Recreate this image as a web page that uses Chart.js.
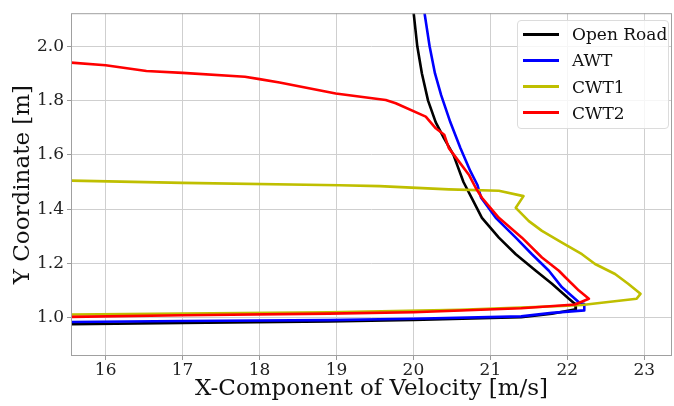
<!DOCTYPE html>
<html>
<head>
<meta charset="utf-8">
<script src="https://cdn.jsdelivr.net/npm/chart.js@4.4.0/dist/chart.umd.min.js"></script>
<style>
    body { margin: 0; background: #fff; }
    #wrap { position: relative; width: 674px; height: 406px; }
    #legend {
        position: absolute; left: 517px; top: 20px; width: 150px; height: 107px;
        border: 1px solid #dcdcdc; border-radius: 4px; background: rgba(255,255,255,0.8);
        font-family: 'DejaVu Serif', serif; font-size: 17px; color: #111;
    }
    .row { position: absolute; left: 0; height: 26px; display: flex; align-items: center; }
    .swatch { width: 36px; height: 3px; margin-left: 5px; margin-right: 13px; }
</style>
</head>
<body>
<div id="wrap">
    <canvas id="chart" width="674" height="406"></canvas>
    <div id="legend"></div>
</div>
<script>
// series names and colours
const seriesNames = ['Open Road', 'AWT', 'CWT1', 'CWT2'];
const seriesColors = ['#000000', '#0000ff', '#bfbf00', '#ff0000'];

// velocity (x) and height (y), in drawing order
const openRoadX = [20.00, 20.05, 20.11, 20.19, 20.29, 20.40, 20.52, 20.65, 20.76, 20.89, 21.11, 21.33, 21.59, 21.80, 22.02, 22.10, 22.11, 21.80, 21.40, 20.00, 18.90, 17.00, 15.50, 15.00];
const openRoadY = [2.130, 2.000, 1.900, 1.800, 1.720, 1.660, 1.600, 1.500, 1.440, 1.368, 1.295, 1.234, 1.173, 1.125, 1.070, 1.051, 1.031, 1.015, 1.002, 0.992, 0.986, 0.981, 0.976, 0.974];

const awtX = [20.14, 20.21, 20.28, 20.36, 20.48, 20.61, 20.74, 20.83, 20.88, 21.07, 21.33, 21.54, 21.76, 21.93, 22.15, 22.22, 22.22, 21.80, 21.40, 20.00, 18.90, 17.00, 15.50, 15.00];
const awtY = [2.130, 2.000, 1.900, 1.820, 1.720, 1.625, 1.540, 1.490, 1.442, 1.368, 1.295, 1.234, 1.173, 1.112, 1.057, 1.050, 1.027, 1.018, 1.005, 0.996, 0.991, 0.988, 0.984, 0.983];

const cwt1X = [15.00, 15.55, 17.00, 19.04, 19.56, 20.46, 21.11, 21.43, 21.33, 21.50, 21.67, 21.93, 22.19, 22.36, 22.62, 22.79, 22.95, 22.90, 22.19, 21.93, 20.60, 18.90, 17.00, 15.50, 15.00];
const cwt1Y = [1.507, 1.505, 1.497, 1.488, 1.485, 1.473, 1.468, 1.448, 1.405, 1.356, 1.320, 1.277, 1.234, 1.198, 1.161, 1.125, 1.088, 1.070, 1.047, 1.043, 1.029, 1.020, 1.015, 1.012, 1.011];

const cwt2X = [15.00, 15.55, 16.00, 16.53, 17.00, 17.81, 18.00, 18.26, 18.99, 19.64, 19.77, 20.16, 20.29, 20.40, 20.46, 20.59, 20.72, 20.81, 20.89, 21.11, 21.41, 21.67, 21.89, 21.97, 22.15, 22.28, 22.10, 21.40, 20.00, 18.90, 17.00, 15.50, 15.00];
const cwt2Y = [1.950, 1.940, 1.930, 1.909, 1.902, 1.888, 1.879, 1.867, 1.826, 1.802, 1.790, 1.741, 1.698, 1.674, 1.625, 1.576, 1.527, 1.478, 1.442, 1.368, 1.295, 1.222, 1.173, 1.150, 1.100, 1.070, 1.049, 1.035, 1.020, 1.015, 1.009, 1.003, 1.002];

// axis ticks
const xTicks = [16, 17, 18, 19, 20, 21, 22, 23];
const yTicks = [1.0, 1.2, 1.4, 1.6, 1.8, 2.0];

const seriesX = [openRoadX, awtX, cwt1X, cwt2X];
const seriesY = [openRoadY, awtY, cwt1Y, cwt2Y];

const serif = 'DejaVu Serif';
Chart.defaults.font.family = serif;

const frame = {
    id: 'frame',
    afterDraw(chart) {
        const a = chart.chartArea, ctx = chart.ctx;
        ctx.save();
        ctx.strokeStyle = '#a0a0a0';
        ctx.lineWidth = 1;
        ctx.strokeRect(a.left + 0.5, a.top + 0.5, a.right - a.left - 1, a.bottom - a.top - 1);
        ctx.restore();
    }
};

new Chart(document.getElementById('chart'), {
    type: 'scatter',
    data: {
        datasets: seriesNames.map((name, i) => ({
            label: name,
            data: seriesX[i].map((x, j) => ({ x: x, y: seriesY[i][j] })),
            showLine: true,
            borderColor: seriesColors[i],
            backgroundColor: seriesColors[i],
            borderWidth: 2.6,
            pointRadius: 0,
            tension: 0,
            borderJoinStyle: 'round',
            order: seriesNames.length - 1 - i
        }))
    },
    options: {
        responsive: false,
        devicePixelRatio: 1,
        animation: false,
        layout: { padding: { top: 11, right: 2, left: 0, bottom: 0 } },
        plugins: { legend: { display: false }, tooltip: { enabled: false } },
        scales: {
            x: {
                type: 'linear', min: 15.55, max: 23.36,
                afterBuildTicks: s => { s.ticks = xTicks.map(v => ({ value: v })); },
                afterFit: s => { s.height = 50; },
                grid: { color: '#cfcfcf', tickLength: 4, tickColor: '#999' },
                border: { display: false },
                ticks: { font: { size: 17 }, color: '#222', padding: 0, maxRotation: 0 },
                title: { display: true, text: 'X-Component of Velocity [m/s]', font: { size: 23 }, color: '#111', padding: { top: 0, bottom: 3 } }
            },
            y: {
                type: 'linear', min: 0.859, max: 2.122,
                afterBuildTicks: s => { s.ticks = yTicks.map(v => ({ value: v })); },
                afterFit: s => { s.width = 71; },
                grid: { color: '#cfcfcf', tickLength: 4, tickColor: '#999' },
                border: { display: false },
                ticks: { font: { size: 17 }, color: '#222', padding: 3, callback: v => v.toFixed(1) },
                title: { display: true, text: 'Y Coordinate [m]', font: { size: 23 }, color: '#111', padding: { top: 9, bottom: 0 } }
            }
        }
    },
    plugins: [frame]
});

// legend inside the plot, top right
const legend = document.getElementById('legend');
seriesNames.forEach((name, i) => {
    const row = document.createElement('div');
    row.className = 'row';
    row.style.top = (i * 26.3) + 'px';
    row.innerHTML = '<span class="swatch" style="background:' + seriesColors[i] + '"></span><span>' + name + '</span>';
    legend.appendChild(row);
});
</script>
</body>
</html>
